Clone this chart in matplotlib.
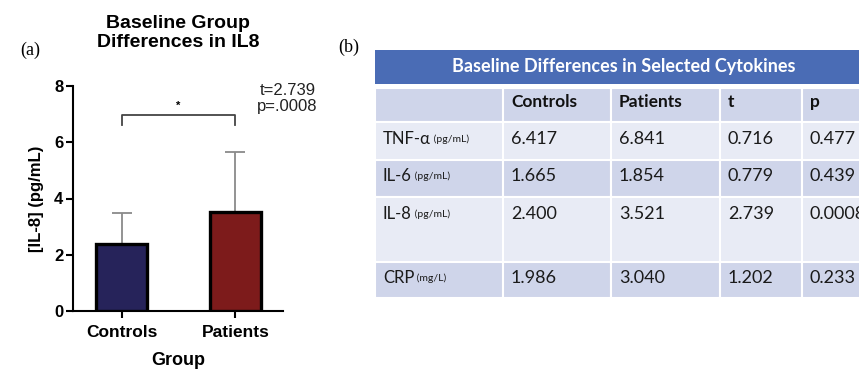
import matplotlib.pyplot as plt
from matplotlib.patches import Rectangle

# Panel (a) data
groups = ['Controls', 'Patients']
il8_mean = [2.40, 3.52]
il8_sd = [1.10, 2.12]
bar_colors = ['#26235a', '#7d1b1b']

# Panel (b) table data
col_labels = ['', 'Controls', 'Patients', 't', 'p']
row_names = ['TNF-α', 'IL-6', 'IL-8', 'CRP']
row_units = ['(pg/mL)', '(pg/mL)', '(pg/mL)', '(mg/L)']
controls = ['6.417', '1.665', '2.400', '1.986']
patients = ['6.841', '1.854', '3.521', '3.040']
t_vals = ['0.716', '0.779', '2.739', '1.202']
p_vals = ['0.477', '0.439', '0.0008', '0.233']

W, H = 859, 374
fig = plt.figure(figsize=(W / 100, H / 100), dpi=100)
sans = 'Liberation Sans'
tfont = 'Lato'

# ---- Panel (a): bar chart ----
ax = fig.add_axes([73 / W, 1 - 311 / H, 210 / W, 225 / H])
x = range(len(groups))
ax.bar(x, il8_mean, width=0.45, color=bar_colors, edgecolor='black', linewidth=2.4, zorder=3,
       yerr=[[0, 0], il8_sd], error_kw=dict(ecolor='#8a8a8a', elinewidth=1.3, capsize=7.5, capthick=1.3, zorder=2))
ax.set_xlim(-0.43, 1.42)
ax.set_ylim(0, 8)
ax.set_yticks([0, 2, 4, 6, 8])
ax.set_xticks(list(x))
ax.set_xticklabels(groups, fontfamily=sans, fontweight='bold', fontsize=12.5)
for lab in ax.get_yticklabels():
    lab.set_fontfamily(sans)
    lab.set_fontweight('bold')
    lab.set_fontsize(12)
for s in ['top', 'right']:
    ax.spines[s].set_visible(False)
for s in ['left', 'bottom']:
    ax.spines[s].set_linewidth(1.5)
ax.tick_params(width=1.5, length=5, pad=2)
ax.tick_params(axis='x', pad=5)
ax.set_ylabel('[IL-8] (pg/mL)', fontfamily=sans, fontweight='bold', fontsize=12, labelpad=7)
ax.set_xlabel('Group', fontfamily=sans, fontweight='bold', fontsize=13, labelpad=9)

# significance bracket
ax.plot([0, 0, 1, 1], [6.6, 6.97, 6.97, 6.6], color='#444444', lw=1.3, clip_on=False)
ax.text(0.5, 7.3, '*', ha='center', va='center', fontsize=8, fontfamily=sans, fontweight='bold')
ax.text(1.46, 8.1, 't=2.739\np=.0008', ha='center', va='top', fontsize=12, fontfamily=sans,
        linespacing=1.05, color='#222222', clip_on=False)

fig.text(178 / W, 1 - 33 / H, 'Baseline Group\nDifferences in IL8', ha='center', va='center',
         fontfamily=sans, fontweight='bold', fontsize=14, linespacing=1.15)
fig.text(20 / W, 1 - 50 / H, '(a)', ha='left', va='center', fontfamily='Liberation Serif', fontsize=13)
fig.text(338 / W, 1 - 47 / H, '(b)', ha='left', va='center', fontfamily='Liberation Serif', fontsize=13)

# ---- Panel (b): table ----
tax = fig.add_axes([0, 0, 1, 1])
tax.set_xlim(0, W)
tax.set_ylim(H, 0)
tax.axis('off')

col_edges = [375, 503, 611, 720, 802, 875]
row_edges = [88, 122, 160, 197, 262, 298]
row_fill = ['#cfd5ea', '#e8ebf5', '#cfd5ea', '#e8ebf5', '#cfd5ea']

# title band
tax.add_patch(Rectangle((375, 50), 500, 34, facecolor='#4a6cb5', edgecolor='white', lw=0))
tax.text(624, 66, 'Baseline Differences in Selected Cytokines', ha='center', va='center',
         color='white', fontfamily=tfont, fontweight='bold', fontsize=13)

for r in range(5):
    for c in range(5):
        tax.add_patch(Rectangle((col_edges[c], row_edges[r]), col_edges[c + 1] - col_edges[c],
                                row_edges[r + 1] - row_edges[r], facecolor=row_fill[r],
                                edgecolor='white', lw=1.5))

pad = 8
for c in range(1, 5):
    tax.text(col_edges[c] + pad, 102, col_labels[c], ha='left', va='center',
             fontfamily=tfont, fontweight='bold', fontsize=12.5, color='#111111')

row_y = [139, 176, 214, 278]
for i in range(len(row_names)):
    y = row_y[i]
    name = tax.text(col_edges[0] + pad, y, row_names[i], ha='left', va='center',
                    fontfamily=tfont, fontsize=12, color='#1a1a1a')
    tax.annotate(' ' + row_units[i], xy=(1, 0.5), xycoords=name, ha='left', va='center',
                 fontfamily=tfont, fontsize=7.5, color='#1a1a1a')
    for c, vals in zip(range(1, 5), [controls, patients, t_vals, p_vals]):
        tax.text(col_edges[c] + pad, y, vals[i], ha='left', va='center',
                 fontfamily=tfont, fontsize=13, color='#1a1a1a')

fig.savefig('out.png', dpi=100)
